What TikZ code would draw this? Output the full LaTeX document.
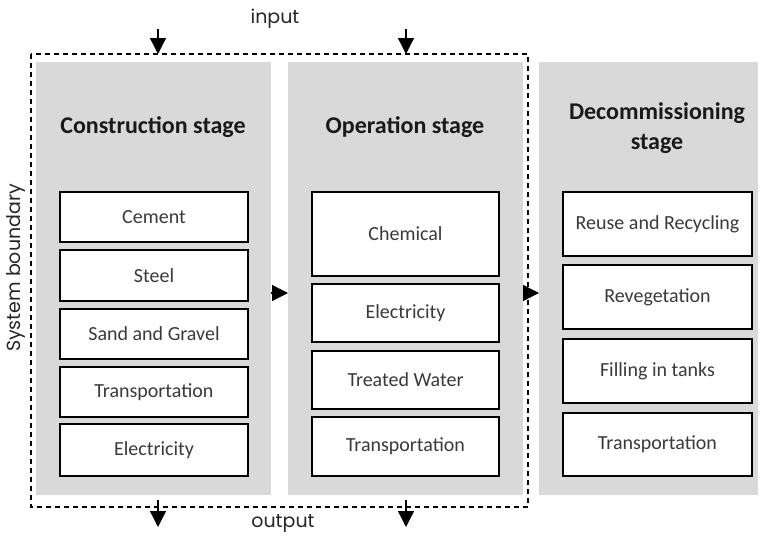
\documentclass[tikz,border=0pt]{standalone}
\usepackage{fontspec}
\setmainfont{Carlito}
\newfontfamily\gothic{Poppins}
\usetikzlibrary{arrows.meta}
\definecolor{panelgray}{HTML}{D9D9D9}
\definecolor{boxtext}{HTML}{3A3A3A}
\tikzset{
  panel/.style={fill=panelgray, draw=none, inner sep=0pt, anchor=north west},
  itembox/.style={draw=black, line width=2.4pt, fill=white, inner sep=0pt, text=boxtext,
    font=\fontsize{20}{22}\selectfont, align=center},
  title/.style={font=\bfseries\fontsize{24}{30}\selectfont, align=center, text=black!90},
  bound/.style={draw=black, dash pattern=on 5pt off 4pt, line width=1.5pt},
  arr/.style={-{Triangle[length=16pt,width=16pt]}, line width=1.3pt},
  lbl/.style={font=\gothic\fontsize{19}{21}\selectfont, text=black!85}
}
\begin{document}
\begin{tikzpicture}[x=1pt,y=-1pt]
\useasboundingbox (0,0) rectangle (761,538);
% panels
\node[panel, minimum width=235pt, minimum height=433pt] (cons) at (36,62) {};
\node[panel, minimum width=235pt, minimum height=433pt] (oper) at (288,62) {};
\node[panel, minimum width=219pt, minimum height=433pt] (deco) at (539,62) {};
% system boundary
\draw[bound] (31,54) rectangle (528,507);
\coordinate (btop) at (0,54);
\coordinate (bbot) at (0,507);
% titles
\node[title] (tcons) at (153,127) {Construction stage};
\node[title] (toper) at (405,127) {Operation stage};
\node[title] (tdeco) at (657,128) {Decommissioning\\stage};
% construction boxes
\node[itembox, minimum width=188pt, minimum height=50pt] (c1) at (154,217) {Cement};
\node[itembox, minimum width=188pt, minimum height=51pt] (c2) at (154,275.5) {Steel};
\node[itembox, minimum width=188pt, minimum height=50pt] (c3) at (154,334) {Sand and Gravel};
\node[itembox, minimum width=188pt, minimum height=50pt] (c4) at (154,392) {Transportation};
\node[itembox, minimum width=188pt, minimum height=52pt] (c5) at (154,450) {Electricity};
% operation boxes
\node[itembox, minimum width=187pt, minimum height=84pt] (o1) at (405.5,234) {Chemical};
\node[itembox, minimum width=187pt, minimum height=58pt] (o2) at (405.5,313) {Electricity};
\node[itembox, minimum width=187pt, minimum height=58pt] (o3) at (405.5,380) {Treated Water};
\node[itembox, minimum width=187pt, minimum height=59pt] (o4) at (405.5,446.5) {Transportation};
% decommissioning boxes
\node[itembox, minimum width=189pt, minimum height=64pt] (d1) at (657.5,224) {Reuse and Recycling};
\node[itembox, minimum width=189pt, minimum height=64pt] (d2) at (657.5,297) {Revegetation};
\node[itembox, minimum width=189pt, minimum height=64pt] (d3) at (657.5,371) {Filling in tanks};
\node[itembox, minimum width=189pt, minimum height=63pt] (d4) at (657.5,444.5) {Transportation};
% stage arrows
\coordinate (mid) at (0,293);
\draw[arr] (cons.east |- mid) -- (oper.west |- mid);
\draw[arr] (oper.east |- mid) -- (deco.west |- mid);
% input / output
\node[lbl] (inlbl) at (275,19) {input};
\node[lbl] (outlbl) at (283,523) {output};
\coordinate (in1) at (158,29);
\coordinate (in2) at (406,29);
\coordinate (ob1) at (158,500);
\coordinate (ob2) at (406,500);
\coordinate (out1) at (158,527);
\coordinate (out2) at (406,527);
\draw[arr] (in1) -- (in1 |- btop);
\draw[arr] (in2) -- (in2 |- btop);
\draw[arr] (ob1) -- (out1);
\draw[arr] (ob2) -- (out2);
% system boundary label
\node[lbl, rotate=90] (sblbl) at (16,268) {System boundary};
\end{tikzpicture}
\end{document}
